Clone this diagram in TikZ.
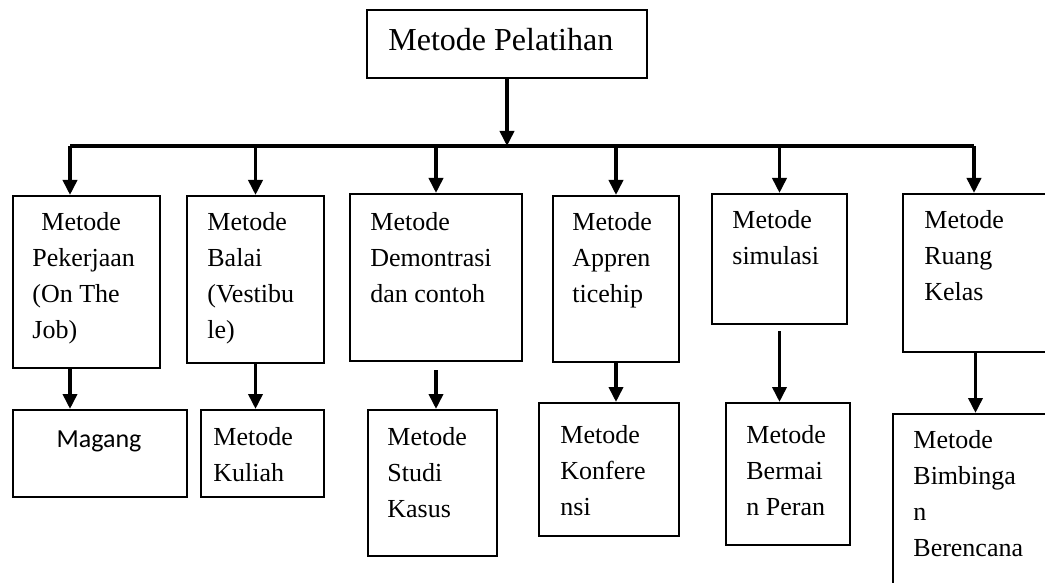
\documentclass[tikz,border=0pt]{standalone}
\usepackage{fontspec}
\setmainfont{Liberation Serif}
\newfontfamily\calib{Carlito}
\usetikzlibrary{arrows.meta}

\begin{document}
\begin{tikzpicture}[
    x=0.5pt, y=-0.5pt,
    box/.style={draw, line width=1pt, anchor=north west, inner sep=0pt},
    txt/.style={anchor=north west, inner sep=0pt, align=left, font=\fontsize{13}{18}\selectfont},
    arr/.style={-{Triangle[length=7.5pt,width=7pt]}, line width=1.8pt},
    bus/.style={line width=2.4pt}
]
\useasboundingbox (0,0) rectangle (1045,583);
\clip (0,0) rectangle (1045,583);

% top
\node[box, minimum width=140pt, minimum height=34pt] (top) at (366,9) {};
\node[anchor=north west, inner sep=0pt, font=\fontsize{16}{20}\selectfont] (topT) at (388,28) {Metode Pelatihan};

% first row
\node[box, minimum width=73.5pt, minimum height=86pt] (kerja) at (12,195) {};
\node[box, minimum width=68.5pt, minimum height=83.5pt] (balai) at (186,195) {};
\node[box, minimum width=86pt, minimum height=83.5pt] (demo) at (349,193) {};
\node[box, minimum width=63pt, minimum height=83pt] (appren) at (552,195) {};
\node[box, minimum width=67.5pt, minimum height=65pt] (simul) at (711,193) {};
\node[box, minimum width=72.5pt, minimum height=79pt] (kelas) at (902,193) {};

\node[txt] (kerjaT) at (32,212) {\hspace{4.5pt}Metode\\Pekerjaan\\(On The\\Job)};
\node[txt] (balaiT) at (207,212) {Metode\\Balai\\(Vestibu\\le)};
\node[txt] (demoT) at (370,212) {Metode\\Demontrasi\\dan contoh};
\node[txt] (apprenT) at (572,212) {Metode\\Appren\\ticehip};
\node[txt] (simulT) at (732,210) {Metode\\simulasi};
\node[txt] (kelasT) at (924,210) {Metode\\Ruang\\Kelas};

% second row
\node[box, minimum width=87pt, minimum height=43.5pt] (magang) at (12,409) {};
\node[box, minimum width=61.5pt, minimum height=43.5pt] (kuliah) at (200,409) {};
\node[box, minimum width=64.5pt, minimum height=73pt] (studi) at (367,409) {};
\node[box, minimum width=70pt, minimum height=66.5pt] (konf) at (538,402) {};
\node[box, minimum width=62pt, minimum height=71pt] (peran) at (725,402) {};
\node[box, minimum width=85pt, minimum height=95pt] (bimbing) at (892,413) {};

\node[anchor=base, inner sep=0pt, font=\calib\fontsize{13}{18}\selectfont] (magangT) at (99,447) {Magang};
\node[txt] (kuliahT) at (213,427) {Metode\\Kuliah};
\node[txt] (studiT) at (387,427) {Metode\\Studi\\Kasus};
\node[txt] (konfT) at (560,425) {Metode\\Konfere\\nsi};
\node[txt] (peranT) at (746,425) {Metode\\Bermai\\n Peran};
\node[txt] (bimbingT) at (913,430) {Metode\\Bimbinga\\n\\Berencana};

% bus
\coordinate (busL) at (70,146);
\coordinate (busR) at (974,146);
\draw[arr] (top.south) -- (top.south |- busL);
\draw[bus] (busL) -- (busR);

\draw[arr] (busL) -- (busL |- kerja.north);
\draw[arr] (balai.north |- busL) -- (balai.north);
\draw[arr] (demo.north |- busL) -- (demo.north);
\draw[arr] (appren.north |- busL) -- (appren.north);
\draw[arr] (simul.north |- busL) -- (simul.north);
\draw[arr] (busR) -- (busR |- kelas.north);

% down to second row
\draw[arr] (busL |- kerja.south) -- (busL |- magang.north);
\draw[arr] (balai.south) -- (balai.south |- kuliah.north);
\draw[arr] ([yshift=-4pt]demo.south) -- (demo.south |- studi.north);
\draw[arr] (appren.south) -- (appren.south |- konf.north);
\draw[arr] ([yshift=-3pt]simul.south) -- (simul.south |- peran.north);
\draw[arr] (kelas.south) -- (kelas.south |- bimbing.north);

\end{tikzpicture}
\end{document}
